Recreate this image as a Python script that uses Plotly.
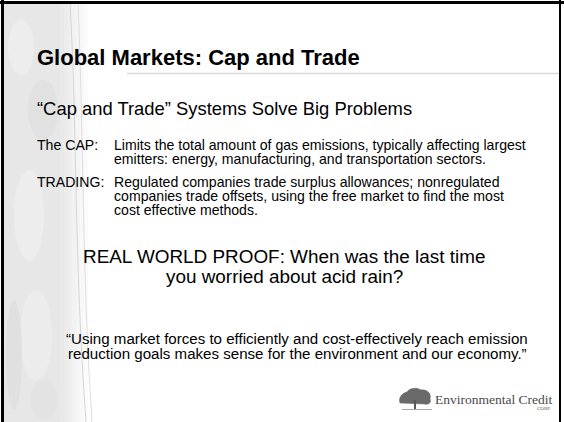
import plotly.graph_objects as go

W, H = 564, 422

title_text = "Global Markets: Cap and Trade"
subtitle_text = "\u201cCap and Trade\u201d Systems Solve Big Problems"
term_labels = ["The CAP:", "TRADING:"]
term_lines = [
    ["Limits the total amount of gas emissions, typically affecting largest",
     "emitters: energy, manufacturing, and transportation sectors."],
    ["Regulated companies trade surplus allowances; nonregulated",
     "companies trade offsets, using the free market to find the most",
     "cost effective methods."],
]
proof_lines = ["REAL WORLD PROOF: When was the last time",
               "you worried about acid rain?"]
quote_lines = ["\u201cUsing market forces to efficiently and cost-effectively reach emission",
               "reduction goals makes sense for the environment and our economy.\u201d"]
logo_text = "Environmental Credit"
logo_sub = "CORP."

SANS = "Liberation Sans, Arial, sans-serif"
SERIF = "Liberation Serif, Times New Roman, serif"

fig = go.Figure()
shapes = []
ann = []

# left textured band (approximation)
shapes.append(dict(type="rect", x0=4, x1=60, y0=3, y1=H, fillcolor="#e7e7e7", line_width=0, layer="below"))
for i, c in enumerate(["#e9e9e9", "#ececec", "#efefef", "#f2f2f2", "#f5f5f5", "#f8f8f8", "#fbfbfb"]):
    shapes.append(dict(type="rect", x0=60 + i * 4, x1=64 + i * 4, y0=3, y1=H, fillcolor=c, line_width=0, layer="below"))
for (x0, y0, x1, y1, c) in [(8, 20, 34, 75, "#efefef"), (14, 170, 44, 260, "#efefef"), (20, 290, 52, 380, "#eeeeee"),
                            (28, 80, 58, 140, "#e0e0e0"), (6, 300, 22, 410, "#dfdfdf"), (30, 380, 58, 420, "#e2e2e2")]:
    shapes.append(dict(type="circle", x0=x0, x1=x1, y0=y0, y1=y1, fillcolor=c, line_width=0, layer="below", opacity=0.8))
shapes.append(dict(type="path", path="M 70 3 C 77 120, 74 260, 86 422", line=dict(color="#d6d6d6", width=1), layer="below"))
shapes.append(dict(type="path", path="M 78 3 C 84 140, 82 280, 92 422", line=dict(color="#dedede", width=1), layer="below"))

# border
shapes.append(dict(type="line", x0=2.5, x1=2.5, y0=0, y1=H, line=dict(color="black", width=3)))
shapes.append(dict(type="line", x0=0, x1=W, y0=2.5, y1=2.5, line=dict(color="black", width=3)))
shapes.append(dict(type="line", x0=560, x1=560, y0=0, y1=H, line=dict(color="black", width=2)))

# title separator
shapes.append(dict(type="line", x0=127, x1=559, y0=73.5, y1=73.5, line=dict(color="#dadada", width=1.5)))

def add(text, x, y, size, xanchor="left", color="#000000", family=SANS, bold=False):
    ann.append(dict(text=("<b>%s</b>" % text) if bold else text, x=x, y=y, xref="x", yref="y",
                    xanchor=xanchor, yanchor="middle", showarrow=False,
                    font=dict(size=size, color=color, family=family)))

add(title_text, 35, 57, 22, bold=True)
add(subtitle_text, 35, 108, 18.4)

label_x, body_x = 35, 112
line_h = 14
starts = [145, 182]
for lab, lines, y in zip(term_labels, term_lines, starts):
    add(lab, label_x, y, 14.1)
    for j, ln in enumerate(lines):
        add(ln, body_x, y + j * line_h, 14.1)

for j, ln in enumerate(proof_lines):
    add(ln, 284, 256 + j * 20, 18.9, xanchor="center")

for j, ln in enumerate(quote_lines):
    add(ln, 297, 338 + j * 15, 15.1, xanchor="center")

# logo
shapes.append(dict(type="path",
                   path="M 400 403 C 398 398, 402 393, 407 392 C 409 388, 417 387, 421 390 C 427 389, 432 394, 430 399 C 432 403, 428 405, 424 404 L 400 403 Z",
                   fillcolor="#6a6a6a", line=dict(color="#6a6a6a", width=0.5)))
shapes.append(dict(type="line", x0=415, x1=415, y0=400, y1=409, line=dict(color="#5a5a5a", width=2)))
shapes.append(dict(type="line", x0=402, x1=432, y0=409.5, y1=409.5, line=dict(color="#aaaaaa", width=1)))
add(logo_text, 433, 399, 13.5, color="#4a4a4a", family=SERIF)
add(logo_sub, 553, 408, 5, xanchor="right", color="#555555", family=SERIF)

fig.update_layout(
    width=W, height=H, autosize=False,
    margin=dict(l=0, r=0, t=0, b=0, pad=0),
    paper_bgcolor="white", plot_bgcolor="white",
    xaxis=dict(range=[0, W], visible=False, fixedrange=True),
    yaxis=dict(range=[H, 0], visible=False, fixedrange=True),
    shapes=shapes, annotations=ann, showlegend=False,
)
fig.write_html("out.html", config={"displayModeBar": False},
               post_script="document.body.style.margin='0';document.body.style.overflow='hidden';")
